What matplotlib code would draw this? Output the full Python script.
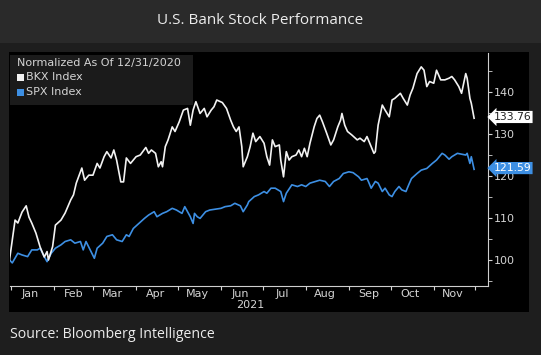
import matplotlib
matplotlib.use("Agg")
import matplotlib.pyplot as plt
import matplotlib.dates as mdates
import matplotlib.transforms as mtransforms
import pandas as pd

# ---- data (normalized to 100 on 12/31/2020) ----
bkx_dates = ["2020-12-31", "2021-01-04", "2021-01-06", "2021-01-09", "2021-01-12",
             "2021-01-14", "2021-01-16", "2021-01-19", "2021-01-22", "2021-01-25",
             "2021-01-27", "2021-01-28", "2021-01-31", "2021-02-02", "2021-02-06",
             "2021-02-09", "2021-02-13", "2021-02-15", "2021-02-17", "2021-02-21",
             "2021-02-23", "2021-02-26", "2021-03-01", "2021-03-04", "2021-03-06",
             "2021-03-09", "2021-03-11", "2021-03-14", "2021-03-16", "2021-03-18",
             "2021-03-21", "2021-03-23", "2021-03-25", "2021-03-28", "2021-04-01",
             "2021-04-04", "2021-04-08", "2021-04-10", "2021-04-12", "2021-04-15",
             "2021-04-17", "2021-04-19", "2021-04-20", "2021-04-22", "2021-04-24",
             "2021-04-27", "2021-04-29", "2021-05-02", "2021-05-05", "2021-05-08",
             "2021-05-10", "2021-05-12", "2021-05-14", "2021-05-17", "2021-05-20",
             "2021-05-22", "2021-05-25", "2021-05-27", "2021-05-29", "2021-06-02",
             "2021-06-05", "2021-06-08", "2021-06-10", "2021-06-12", "2021-06-14",
             "2021-06-16", "2021-06-17", "2021-06-20", "2021-06-22", "2021-06-24",
             "2021-06-26", "2021-06-29", "2021-07-02", "2021-07-04", "2021-07-06",
             "2021-07-08", "2021-07-10", "2021-07-13", "2021-07-14", "2021-07-16",
             "2021-07-18", "2021-07-20", "2021-07-22", "2021-07-25", "2021-07-27",
             "2021-07-29", "2021-07-31", "2021-08-02", "2021-08-04", "2021-08-07",
             "2021-08-09", "2021-08-11", "2021-08-13", "2021-08-16", "2021-08-19",
             "2021-08-21", "2021-08-24", "2021-08-26", "2021-08-27", "2021-08-29",
             "2021-08-31", "2021-09-03", "2021-09-07", "2021-09-09", "2021-09-12",
             "2021-09-14", "2021-09-16", "2021-09-19", "2021-09-20", "2021-09-22",
             "2021-09-25", "2021-09-27", "2021-09-30", "2021-10-02", "2021-10-04",
             "2021-10-08", "2021-10-10", "2021-10-13", "2021-10-15", "2021-10-17",
             "2021-10-20", "2021-10-23", "2021-10-25", "2021-10-27", "2021-10-29",
             "2021-11-01", "2021-11-03", "2021-11-06", "2021-11-09", "2021-11-12",
             "2021-11-14", "2021-11-16", "2021-11-19", "2021-11-21", "2021-11-24",
             "2021-11-25", "2021-11-27", "2021-11-28", "2021-11-30"]
bkx_vals = [100.0, 109.5, 108.8, 111.4, 112.9, 110.2, 108.8, 106.4, 103.1, 100.7,
            102.0, 100.0, 103.2, 108.3, 109.5, 111.2, 114.3, 115.5, 118.3, 121.9,
            119.0, 120.2, 120.2, 123.0, 121.9, 124.6, 125.8, 124.3, 126.2, 123.8,
            118.6, 118.6, 124.3, 123.0, 124.6, 125.0, 126.8, 125.4, 126.2, 125.4,
            122.2, 123.4, 122.2, 127.0, 128.6, 131.7, 130.6, 132.9, 135.7, 136.1,
            132.1, 135.7, 137.7, 134.9, 136.1, 134.1, 135.7, 136.5, 138.1, 137.5,
            136.1, 133.3, 131.7, 130.6, 131.7, 127.0, 122.2, 124.6, 127.0, 130.2,
            128.2, 129.4, 127.8, 124.6, 122.6, 128.6, 127.0, 127.4, 123.8, 119.8,
            125.8, 123.8, 124.6, 125.0, 126.2, 124.6, 126.6, 124.6, 127.8, 131.7,
            133.7, 134.5, 132.9, 130.2, 127.4, 128.6, 131.7, 133.3, 134.9, 132.1,
            130.6, 129.8, 128.6, 129.0, 128.2, 129.4, 127.8, 125.4, 125.8, 132.1,
            136.9, 135.7, 134.1, 138.1, 138.5, 139.7, 138.5, 136.9, 139.3, 140.9,
            144.4, 146.0, 145.2, 141.3, 142.5, 142.1, 145.2, 142.9, 142.9, 143.3,
            143.7, 142.9, 141.3, 139.7, 144.4, 143.3, 138.5, 137.3, 133.76]

spx_dates = ["2020-12-31", "2021-01-02", "2021-01-06", "2021-01-09", "2021-01-13",
             "2021-01-16", "2021-01-20", "2021-01-22", "2021-01-25", "2021-01-27",
             "2021-01-30", "2021-02-02", "2021-02-06", "2021-02-09", "2021-02-13",
             "2021-02-16", "2021-02-20", "2021-02-22", "2021-02-24", "2021-02-27",
             "2021-03-02", "2021-03-04", "2021-03-08", "2021-03-11", "2021-03-15",
             "2021-03-18", "2021-03-22", "2021-03-25", "2021-03-27", "2021-03-30",
             "2021-04-03", "2021-04-07", "2021-04-10", "2021-04-14", "2021-04-16",
             "2021-04-20", "2021-04-23", "2021-04-27", "2021-04-30", "2021-05-04",
             "2021-05-06", "2021-05-10", "2021-05-12", "2021-05-13", "2021-05-15",
             "2021-05-17", "2021-05-21", "2021-05-24", "2021-05-28", "2021-06-01",
             "2021-06-04", "2021-06-08", "2021-06-11", "2021-06-15", "2021-06-17",
             "2021-06-20", "2021-06-21", "2021-06-25", "2021-06-28", "2021-07-02",
             "2021-07-04", "2021-07-07", "2021-07-10", "2021-07-14", "2021-07-16",
             "2021-07-18", "2021-07-22", "2021-07-26", "2021-07-29", "2021-08-01",
             "2021-08-04", "2021-08-08", "2021-08-11", "2021-08-15", "2021-08-18",
             "2021-08-21", "2021-08-25", "2021-08-28", "2021-09-01", "2021-09-04",
             "2021-09-08", "2021-09-10", "2021-09-14", "2021-09-15", "2021-09-17",
             "2021-09-20", "2021-09-22", "2021-09-25", "2021-09-27", "2021-09-30",
             "2021-10-02", "2021-10-04", "2021-10-07", "2021-10-09", "2021-10-12",
             "2021-10-14", "2021-10-16", "2021-10-20", "2021-10-23", "2021-10-27",
             "2021-10-31", "2021-11-03", "2021-11-07", "2021-11-09", "2021-11-12",
             "2021-11-14", "2021-11-18", "2021-11-21", "2021-11-24", "2021-11-25",
             "2021-11-27", "2021-11-28", "2021-11-30"]
spx_vals = [100.0, 99.3, 101.6, 101.2, 100.8, 102.4, 102.4, 102.8, 100.8, 99.6,
            101.6, 102.8, 103.6, 104.4, 104.8, 104.0, 104.4, 102.4, 104.4, 102.4,
            100.4, 102.8, 104.0, 105.6, 106.0, 104.8, 104.4, 106.0, 105.6, 107.5,
            108.7, 109.9, 110.7, 111.5, 110.3, 111.1, 111.5, 112.3, 111.9, 111.1,
            112.7, 110.3, 108.7, 111.1, 110.3, 109.9, 111.5, 111.9, 112.1, 112.3,
            112.7, 112.9, 113.5, 112.9, 111.5, 113.1, 113.9, 115.1, 115.5, 116.3,
            115.9, 117.1, 117.1, 116.3, 113.9, 115.9, 117.9, 117.5, 117.9, 117.5,
            118.3, 118.7, 119.0, 118.7, 117.5, 118.7, 119.4, 120.6, 121.0, 120.8,
            119.8, 119.0, 119.4, 118.7, 117.1, 118.7, 118.3, 116.3, 117.1, 115.5,
            115.1, 116.3, 117.5, 116.7, 116.3, 117.9, 119.4, 120.6, 121.4, 121.8,
            123.0, 123.8, 125.4, 125.0, 124.0, 124.6, 125.4, 125.2, 125.0, 125.4,
            123.0, 124.6, 121.59]

series_names = ["BKX Index", "SPX Index"]
last_labels = ["133.76", "121.59"]
legend_title = "Normalized As Of 12/31/2020"
title = "U.S. Bank Stock Performance"
source = "Source: Bloomberg Intelligence"

white = "#f2f2f2"
blue = "#3d8fe3"
text_col = "#d4d4d4"

W, H = 541.0, 355.0


def box(x0, y0, x1, y1):
    # pixel box (top-left origin) -> figure-fraction rect args
    return (x0 / W, 1 - y1 / H), (x1 - x0) / W, (y1 - y0) / H


def main():
    fig = plt.figure(figsize=(5.41, 3.55), dpi=100)
    fig.patch.set_facecolor("#1e1e1e")

    # background layer: title band and black chart panel
    bg = fig.add_axes([0, 0, 1, 1], zorder=-5)
    bg.set_xlim(0, 1)
    bg.set_ylim(0, 1)
    bg.axis("off")
    bg.add_patch(plt.Rectangle(*box(0, 0, W, 43), fc="#2a2a2a", ec="none"))
    bg.add_patch(plt.Rectangle(*box(9, 52, 529, 312), fc="black", ec="none"))

    ax = fig.add_axes([9.5 / W, 1 - 286 / H, (488 - 9.5) / W, (286 - 53) / H], zorder=1)
    ax.set_facecolor("none")

    bd = pd.to_datetime(bkx_dates)
    sd = pd.to_datetime(spx_dates)
    ax.plot(sd, spx_vals, color=blue, lw=1.2, zorder=3)
    ax.plot(bd, bkx_vals, color=white, lw=1.2, zorder=4)

    ax.set_ylim(93.8, 149.3)
    ax.set_xlim(pd.Timestamp("2020-12-31"), pd.Timestamp("2021-12-10"))

    for s in ["left", "top"]:
        ax.spines[s].set_visible(False)
    for s in ["right", "bottom"]:
        ax.spines[s].set_color("#cfcfcf")
        ax.spines[s].set_linewidth(0.8)

    ax.yaxis.tick_right()
    ax.set_yticks([100, 110, 120, 130, 140])
    ax.set_yticks([95, 105, 115, 125, 135, 145], minor=True)
    ax.tick_params(axis="y", which="major", colors=text_col, labelsize=8, length=3, pad=1)
    ax.tick_params(axis="y", which="minor", colors=text_col, length=3)

    ax.xaxis.set_major_locator(mdates.MonthLocator())
    ax.xaxis.set_major_formatter(plt.NullFormatter())
    ax.xaxis.set_minor_locator(mdates.MonthLocator(bymonthday=15))
    ax.xaxis.set_minor_formatter(mdates.DateFormatter("%b"))
    ax.tick_params(axis="x", which="major", colors=text_col, length=3, width=0.8)
    ax.tick_params(axis="x", which="minor", colors=text_col, length=0, labelsize=8, pad=2)
    ax.text(pd.Timestamp("2021-06-22"), -0.06, "2021",
            transform=mtransforms.blended_transform_factory(ax.transData, ax.transAxes),
            ha="center", va="top", color=text_col, fontsize=8)

    # last value tags
    trans = mtransforms.blended_transform_factory(ax.transAxes, ax.transData)
    ax.text(1.012, bkx_vals[-1] + 0.3, last_labels[0], transform=trans, ha="left", va="center",
            fontsize=7.8, color="#222222", zorder=6, clip_on=False,
            bbox=dict(boxstyle="larrow,pad=0.1", fc="white", ec="none"))
    ax.text(1.012, spx_vals[-1] + 0.3, last_labels[1], transform=trans, ha="left", va="center",
            fontsize=7.8, color="white", zorder=6, clip_on=False,
            bbox=dict(boxstyle="larrow,pad=0.1", fc=blue, ec="none"))

    # legend block
    lg = fig.add_axes([0, 0, 1, 1], zorder=3)
    lg.set_xlim(0, 1)
    lg.set_ylim(0, 1)
    lg.axis("off")
    lg.add_patch(plt.Rectangle(*box(10, 55, 193, 105), fc="#1b1b1b", ec="none"))
    lg.text(17 / W, 1 - 63 / H, legend_title, color=text_col, fontsize=8, va="center")
    for i, (name, c) in enumerate(zip(series_names, [white, blue])):
        yc = 77 + 15 * i
        lg.add_patch(plt.Rectangle(*box(17, yc - 3.5, 24, yc + 3.5), fc=c, ec="none"))
        lg.text(26 / W, 1 - yc / H, name, color=text_col, fontsize=8, va="center")

    lg.text(260 / W, 1 - 20 / H, title, color="#ececec", fontsize=11, ha="center",
            va="center", family="Open Sans", fontweight="medium")
    lg.text(10 / W, 1 - 335 / H, source, color="#ececec", fontsize=10.2, ha="left",
            va="center", family="Open Sans")

    fig.savefig("out.png", dpi=100, facecolor=fig.get_facecolor())


if __name__ == "__main__":
    main()
